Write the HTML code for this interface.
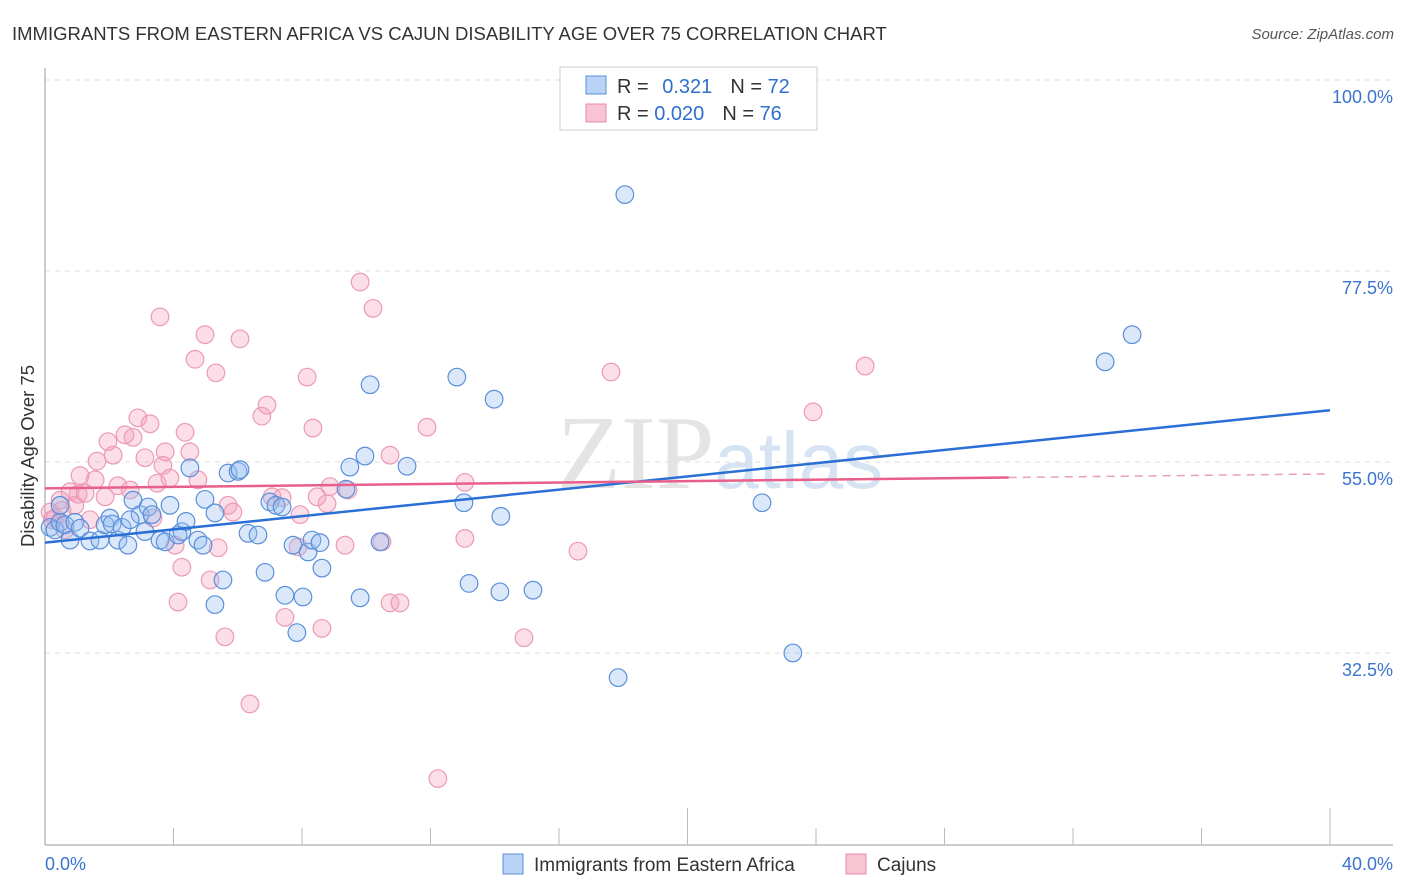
<!DOCTYPE html>
<html><head><meta charset="utf-8"><style>
body{margin:0;background:#fff;font-family:"Liberation Sans",sans-serif;}
#wrap{position:relative;width:1406px;height:892px;overflow:hidden;}
</style></head><body>
<div id="wrap">
<svg id="svg" width="1406" height="892" xmlns="http://www.w3.org/2000/svg">
<text x="12" y="40" font-size="18.5" fill="#333">IMMIGRANTS FROM EASTERN AFRICA VS CAJUN DISABILITY AGE OVER 75 CORRELATION CHART</text>
<text x="1394" y="39" font-size="15" fill="#555" font-style="italic" text-anchor="end">Source: ZipAtlas.com</text>
<text x="720" y="488" font-size="105" fill="#e4e4e4" font-family="Liberation Serif" text-anchor="middle">ZIP<tspan fill="#d6e3f3" font-family="Liberation Sans" font-size="80">atlas</tspan></text>
<text transform="translate(34,456) rotate(-90)" font-size="18.5" fill="#333" text-anchor="middle">Disability Age Over 75</text>
<g id="grid"></g><g id="pts"></g><g id="lines"></g>
<g>
<rect x="560" y="67" width="257" height="63" fill="#fff" stroke="#ccc"/>
<rect x="586" y="76" width="20" height="18" fill="#b8d3f5" stroke="#5b8fd6"/>
<rect x="586" y="104" width="20" height="18" fill="#f9c4d4" stroke="#e88aa8"/>
<text x="617" y="93" font-size="20" fill="#333">R = <tspan fill="#2f6fd0" dx="8">0.321</tspan><tspan fill="#333" dx="18">N = </tspan><tspan fill="#2f6fd0">72</tspan></text>
<text x="617" y="120" font-size="20" fill="#333">R = <tspan fill="#2f6fd0">0.020</tspan><tspan fill="#333" dx="18">N = </tspan><tspan fill="#2f6fd0">76</tspan></text>
</g>
<g>
<rect x="503" y="854" width="20" height="20" fill="#b8d3f5" stroke="#5b8fd6"/>
<text x="534" y="871" font-size="19" fill="#333">Immigrants from Eastern Africa</text>
<rect x="846" y="854" width="20" height="20" fill="#f9c4d4" stroke="#e88aa8"/>
<text x="877" y="871" font-size="19" fill="#333">Cajuns</text>
</g>
</svg>
</div>
<script>
const yTicks=[100,77.5,55,32.5];
const yTickLabels=["100.0%","77.5%","55.0%","32.5%"];
const xTickLabels=["0.0%","40.0%"];
const blueX=[.16,.31,.47,.62,.78,.93,1.09,1.40,1.71,1.87,2.02,2.09,2.27,2.40,2.58,2.74,2.96,3.11,3.21,3.33,3.58,3.74,3.89,4.14,4.26,4.39,4.51,4.76,4.92,4.98,5.29,5.54,5.29,5.70,6.01,6.32,6.63,6.85,7.00,7.19,7.38,7.47,7.72,7.84,8.03,8.19,8.31,8.56,8.62,9.37,9.49,9.81,9.96,10.12,10.43,11.27,12.82,13.04,13.20,13.98,14.16,14.19,15.19,17.84,18.05,22.32,23.28,33.00,33.84,.47,2.65,6.07];
const blueY=[47.3,47.0,47.9,47.6,45.8,47.9,47.2,45.7,45.8,47.6,48.4,47.7,45.8,47.3,45.2,50.5,48.8,46.8,49.7,48.8,45.8,45.6,49.9,46.4,46.8,48.0,54.3,45.8,45.2,50.6,49.0,41.1,38.2,53.7,53.9,46.6,46.4,42.0,50.3,49.9,49.7,39.3,45.2,34.9,39.1,44.4,45.8,45.5,42.5,51.8,54.4,39.0,55.7,64.1,45.6,54.5,65.0,50.2,40.7,62.4,39.7,48.6,39.9,29.6,86.5,50.2,32.5,66.8,70.0,49.9,48.2,54.1];
const pinkX=[.16,.31,.47,.62,.78,.93,1.03,1.09,1.25,1.40,1.56,1.62,1.87,1.96,2.12,2.27,2.49,2.65,2.74,2.89,3.11,3.27,3.36,3.49,3.58,3.67,3.74,3.89,4.05,4.14,4.26,4.36,4.51,4.67,4.76,4.98,5.14,5.32,5.39,5.60,5.70,5.85,6.07,6.38,6.75,6.91,7.07,7.38,7.47,7.88,7.94,8.16,8.34,8.47,8.62,8.78,8.87,9.34,9.43,9.81,10.21,10.49,10.74,11.05,10.74,11.89,12.23,13.07,13.07,14.91,16.59,17.62,23.91,25.53,.53,.22];
const pinkY=[49.1,48.4,50.5,47.0,51.5,49.9,51.2,53.4,51.3,48.2,52.9,55.1,50.9,57.4,55.8,52.2,58.2,51.7,57.9,60.2,55.5,59.5,48.4,52.5,72.1,54.6,56.2,53.1,45.2,38.5,42.6,58.5,56.2,67.1,52.9,70.0,41.1,65.5,44.9,34.4,49.9,49.1,69.5,26.5,60.4,61.7,50.9,50.8,36.7,45.0,48.8,65.0,59.0,50.9,35.4,50.1,52.1,45.2,51.7,76.2,73.1,45.6,38.4,38.4,55.8,59.1,17.7,52.6,46.0,34.3,44.5,65.6,60.9,66.3,49.3,48.2];
const blueTrend=[45.5,61.1];
const pinkTrend=[51.9,53.6];
const pinkSolidEnd=30;

const X0=45,X1=1330,Y100=80,PXPER=191/22.5;
const sx=v=>X0+(v/40)*(X1-X0);
const sy=v=>Y100+(100-v)*PXPER;
const NS="http://www.w3.org/2000/svg";
function mk(tag,attrs,parent){const e=document.createElementNS(NS,tag);for(const k in attrs)e.setAttribute(k,attrs[k]);parent.appendChild(e);return e;}
const grid=document.getElementById('grid');
yTicks.forEach((t,i)=>{
  const l=mk('line',{x1:X0,x2:1393,y1:sy(t),y2:sy(t),stroke:'#dcdcdc','stroke-dasharray':'5,5'},grid);
  
  
  const tx=mk('text',{x:1393,y:sy(t)+23,'font-size':18,fill:'#3a74d0','text-anchor':'end'},grid);
  tx.textContent=yTickLabels[i];
  
  
});
const ax=mk('line',{x1:X0,x2:X0,y1:68,y2:845,stroke:'#bbb','stroke-width':1.5},grid);


const bx=mk('line',{x1:X0,x2:1393,y1:845,y2:845,stroke:'#bbb','stroke-width':1.5},grid);


for(let i=0;i<=10;i++){
  const v=i*4;const tall=(i===5||i===10);
  const t=mk('line',{x1:sx(v),x2:sx(v),y1:tall?808:828,y2:845,stroke:'#bbb'},grid);
  
  
}
[[0,'start'],[40,'end']].forEach((a,i)=>{
  const t=mk('text',{x:i?1393:45,y:870,'font-size':18,fill:'#3a74d0','text-anchor':a[1]},grid);
  t.textContent=xTickLabels[i];
  
  
});
const pts=document.getElementById('pts');
pinkX.forEach((x,i)=>{
  const c=mk('circle',{cx:sx(x),cy:sy(pinkY[i]),r:8.8,fill:'rgba(244,160,188,0.35)',stroke:'#ec9ab5','stroke-width':1.2},pts);
  
  
});
blueX.forEach((x,i)=>{
  const c=mk('circle',{cx:sx(x),cy:sy(blueY[i]),r:8.8,fill:'rgba(150,190,240,0.35)',stroke:'#5b90da','stroke-width':1.2},pts);
  
  
});
const lines=document.getElementById('lines');
const bl=mk('line',{x1:sx(0),y1:sy(blueTrend[0]),x2:sx(40),y2:sy(blueTrend[1]),stroke:'#2a6fd6','stroke-width':2.5},lines);


const pm=pinkTrend[0]+(pinkTrend[1]-pinkTrend[0])*pinkSolidEnd/40;
const pl=mk('line',{x1:sx(0),y1:sy(pinkTrend[0]),x2:sx(pinkSolidEnd),y2:sy(pm),stroke:'#e8608a','stroke-width':2.5},lines);


const pd=mk('line',{x1:sx(pinkSolidEnd),y1:sy(pm),x2:sx(40),y2:sy(pinkTrend[1]),stroke:'#e8a0b8','stroke-width':1.5,'stroke-dasharray':'8,6'},lines);


</script>
</body></html>
